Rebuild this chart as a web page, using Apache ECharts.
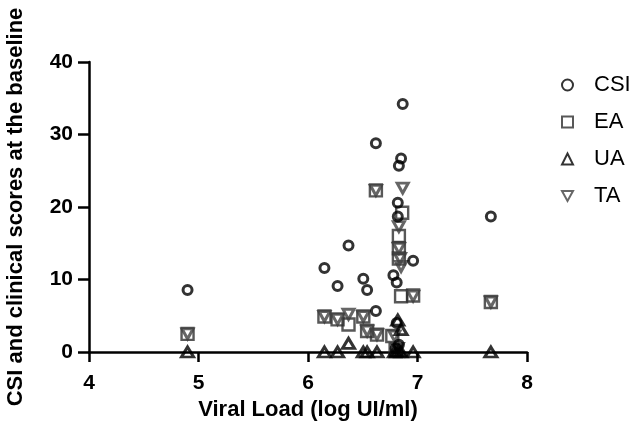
<!DOCTYPE html>
<html>
<head>
<meta charset="utf-8">
<script src="https://cdn.jsdelivr.net/npm/echarts@6/dist/echarts.min.js"></script>
<style>html,body{margin:0;padding:0;background:#fff;}#c{width:634px;height:428px;}</style>
</head>
<body>
<div id="c"></div>
<script>
var xTicks = [4, 5, 6, 7, 8];
var yTicks = [0, 10, 20, 30, 40];
var seriesNames = ['CSI', 'EA', 'UA', 'TA'];

var csiX = [4.9, 6.15, 6.27, 6.37, 6.505, 6.54, 6.62, 6.62, 6.78, 6.81, 6.81, 6.82, 6.82, 6.83, 6.85, 6.865, 6.96, 7.67, 6.80, 6.83];
var csiY = [8.55, 11.6, 9.1, 14.7, 10.1, 8.55, 5.65, 28.8, 10.6, 9.6, 4.0, 20.6, 18.7, 25.7, 26.7, 34.2, 12.6, 18.7, 0.5, 1.0];

var eaX = [4.9, 6.15, 6.27, 6.37, 6.505, 6.54, 6.62, 6.63, 6.77, 6.83, 6.83, 6.83, 6.85, 6.86, 6.96, 7.67, 6.80];
var eaY = [2.5, 4.9, 4.5, 3.8, 4.9, 2.9, 22.3, 2.4, 2.2, 16.0, 14.3, 12.9, 7.7, 19.2, 7.8, 6.9, 0.3];

var uaX = [4.9, 6.15, 6.27, 6.37, 6.505, 6.54, 6.63, 6.79, 6.81, 6.82, 6.83, 6.85, 6.85, 6.96, 7.67];
var uaY = [0, 0, 0, 1.2, 0, 0, 0, 0, 0, 4.4, 0.2, 3.1, 0, 0, 0];

var taX = [4.9, 6.15, 6.27, 6.37, 6.505, 6.54, 6.62, 6.63, 6.79, 6.82, 6.83, 6.83, 6.84, 6.85, 6.865, 6.96, 7.67];
var taY = [2.5, 4.9, 4.5, 5.2, 4.9, 2.9, 22.3, 2.4, 2.2, 0.5, 17.3, 14.3, 12.9, 11.8, 22.6, 7.7, 6.9];

function pairs(xs, ys) { return xs.map(function (x, i) { return [x, ys[i]]; }); }

var font = '"Liberation Sans", Arial, Helvetica, sans-serif';
var downTri = 'path://M0,0 L10,0 L5,9 Z';
var chart = echarts.init(document.getElementById('c'), null, {renderer: 'canvas'});
chart.setOption({
  animation: false,
  backgroundColor: '#fff',
  grid: {left: 89, right: 107, top: 62, bottom: 76, containLabel: false, outerBoundsMode: 'none'},
  legend: {
    orient: 'vertical', left: 556, top: 69, itemGap: 15, itemWidth: 11, itemHeight: 11,
    textStyle: {fontFamily: font, fontSize: 22, color: '#000', padding: [0, 0, 0, 16]},
    data: seriesNames
  },
  xAxis: {
    type: 'value', min: xTicks[0], max: xTicks[xTicks.length - 1], interval: 1,
    name: 'Viral Load (log UI/ml)', nameLocation: 'middle', nameGap: 47,
    nameTextStyle: {fontFamily: font, fontWeight: 'bold', fontSize: 22, color: '#000'},
    axisLine: {onZero: true, lineStyle: {color: '#000', width: 2.5}},
    axisTick: {show: true, length: 10, lineStyle: {color: '#000', width: 2.5}},
    axisLabel: {fontFamily: font, fontWeight: 'bold', fontSize: 21, color: '#000', margin: 21},
    splitLine: {show: false}
  },
  yAxis: {
    type: 'value', min: yTicks[0], max: yTicks[yTicks.length - 1], interval: 10,
    name: 'CSI and clinical scores at the baseline', nameLocation: 'middle', nameGap: 62,
    nameTextStyle: {fontFamily: font, fontWeight: 'bold', fontSize: 22, color: '#000'},
    axisLine: {show: true, lineStyle: {color: '#000', width: 2.5}},
    axisTick: {show: true, length: 11, lineStyle: {color: '#000', width: 2.5}},
    axisLabel: {fontFamily: font, fontWeight: 'bold', fontSize: 21, color: '#000', margin: 16},
    splitLine: {show: false}
  },
  series: [
    {name: 'CSI', type: 'scatter', symbol: 'circle', symbolSize: 9, z: 4,
     itemStyle: {color: 'rgba(255,255,255,0)', borderColor: '#000', borderWidth: 3},
     data: pairs(csiX, csiY)},
    {name: 'EA', type: 'scatter', symbol: 'rect', symbolSize: 12, z: 2,
     itemStyle: {color: 'rgba(255,255,255,0)', borderColor: '#2e2e2e', borderWidth: 2.4},
     data: pairs(eaX, eaY)},
    {name: 'UA', type: 'scatter', symbol: 'triangle', symbolSize: [12, 10], z: 5,
     itemStyle: {color: 'rgba(255,255,255,0)', borderColor: '#000', borderWidth: 3},
     data: pairs(uaX, uaY)},
    {name: 'TA', type: 'scatter', symbol: downTri, symbolSize: [11, 10], z: 3,
     itemStyle: {color: 'rgba(255,255,255,0)', borderColor: '#404040', borderWidth: 3},
     data: pairs(taX, taY)}
  ]
});
</script>
</body>
</html>
